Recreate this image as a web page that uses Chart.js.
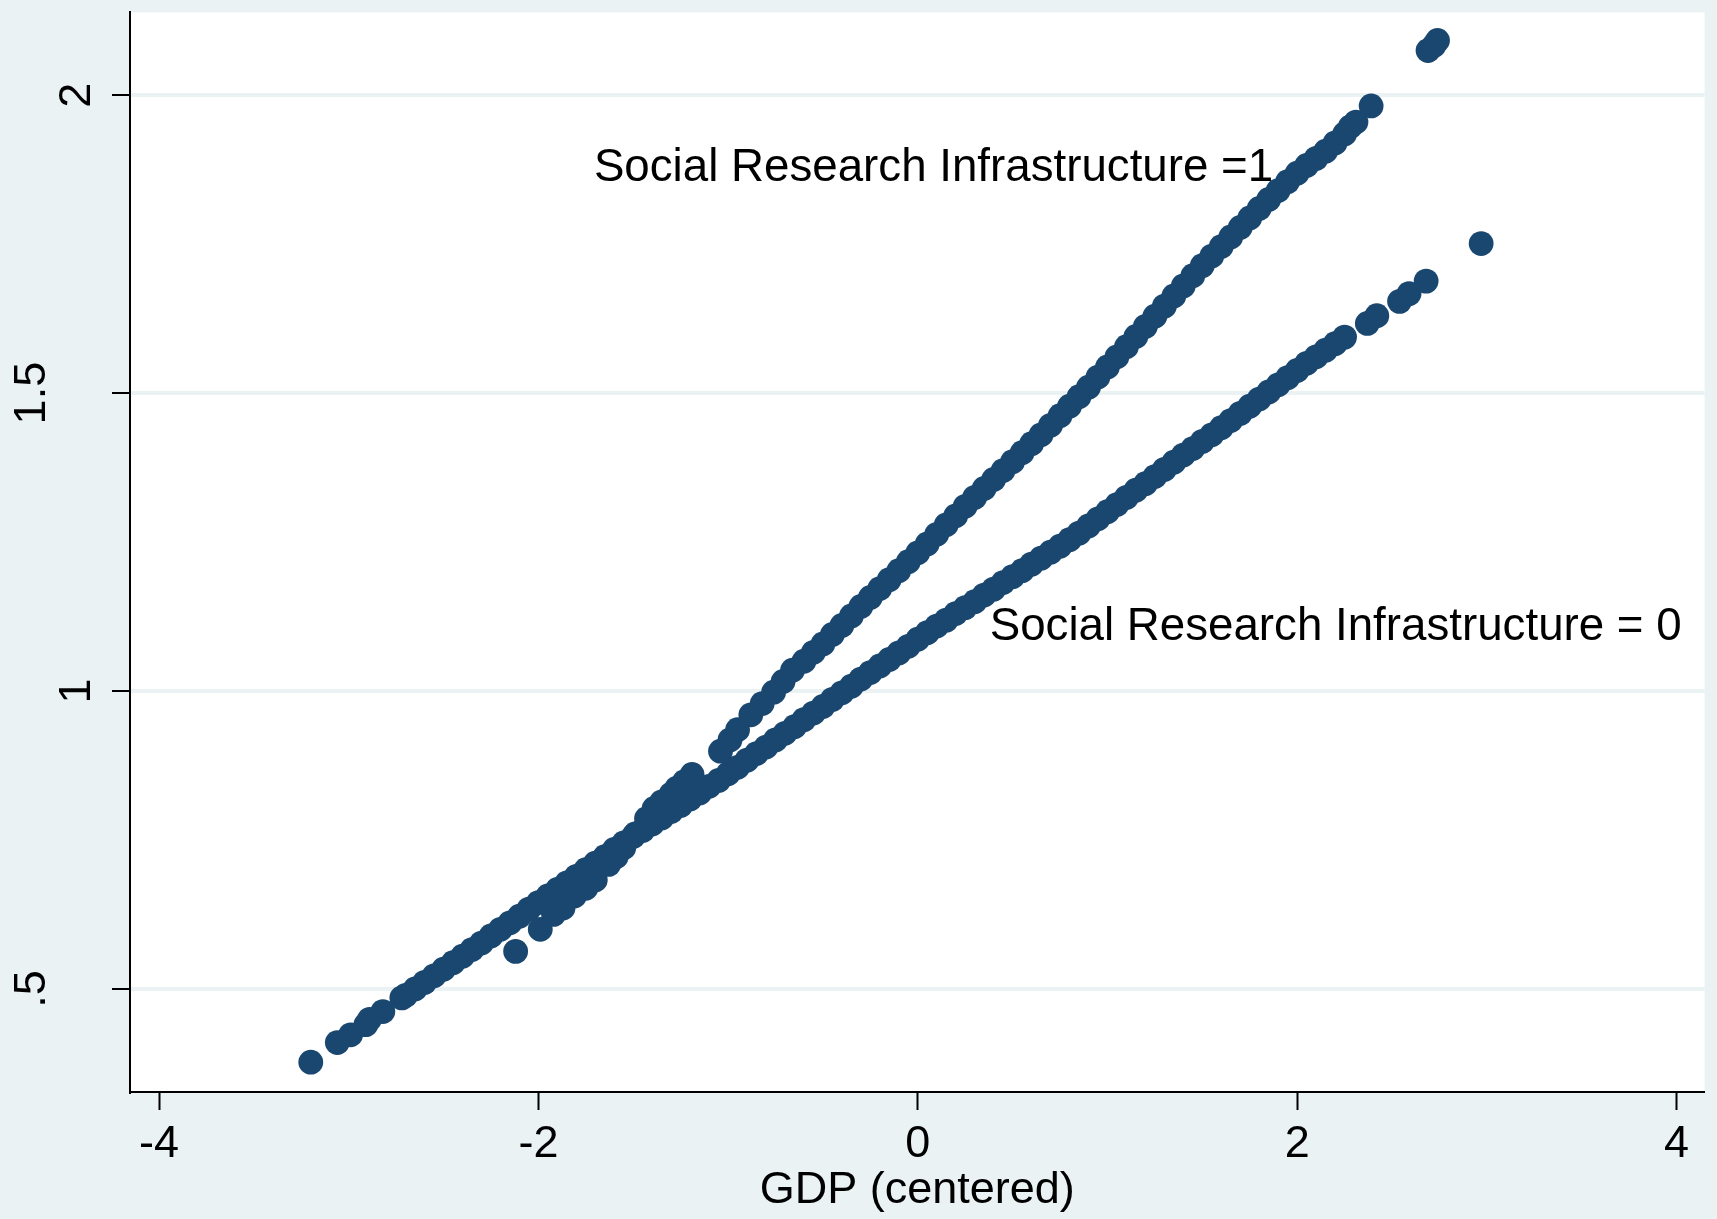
<!DOCTYPE html>
<html>
<head>
<meta charset="utf-8">
<title>GDP (centered)</title>
<script src="https://cdn.jsdelivr.net/npm/chart.js@4.4.1/dist/chart.umd.min.js"></script>
<style>
  html, body { margin: 0; padding: 0; background: #eaf2f3; }
  canvas { display: block; }
</style>
</head>
<body>
<canvas id="scatterChart" width="1717" height="1219"></canvas>
<script>
// tick values
var xTicks = [-4, -2, 0, 2, 4];
var yTicks = [0.5, 1, 1.5, 2];

// Social Research Infrastructure = 0
var sri0X = [-3.20, -3.06, -2.99, -2.91, -2.89, -2.82, -2.72, -2.70, -2.65, -2.60,
             -2.55, -2.50, -2.45, -2.40, -2.35, -2.30, -2.25, -2.20, -2.15, -2.10,
             -2.05, -2.00, -1.95, -1.90, -1.85, -1.80, -1.75, -1.70, -1.65, -1.60,
             -1.55, -1.50, -1.45, -1.40, -1.35, -1.30, -1.25, -1.20, -1.15, -1.10,
             -1.05, -1.00, -0.95, -0.90, -0.85, -0.80, -0.75, -0.70, -0.65, -0.60,
             -0.55, -0.50, -0.45, -0.40, -0.35, -0.30, -0.25, -0.20, -0.15, -0.10,
             -0.05, 0.00, 0.05, 0.10, 0.15, 0.20, 0.25, 0.30, 0.35, 0.40,
             0.45, 0.50, 0.55, 0.60, 0.65, 0.70, 0.75, 0.80, 0.85, 0.90,
             0.95, 1.00, 1.05, 1.10, 1.15, 1.20, 1.25, 1.30, 1.35, 1.40,
             1.45, 1.50, 1.55, 1.60, 1.65, 1.70, 1.75, 1.80, 1.85, 1.90,
             1.95, 2.00, 2.05, 2.10, 2.15, 2.20, 2.25, 2.37, 2.42, 2.54,
             2.59, 2.68, 2.97];
var sri0Y = [0.377, 0.410, 0.423, 0.440, 0.449, 0.462, 0.485, 0.489, 0.500, 0.511,
             0.522, 0.533, 0.544, 0.555, 0.566, 0.577, 0.589, 0.600, 0.611, 0.622,
             0.634, 0.645, 0.656, 0.667, 0.678, 0.689, 0.700, 0.711, 0.722, 0.734,
             0.745, 0.756, 0.766, 0.777, 0.787, 0.798, 0.808, 0.819, 0.829, 0.840,
             0.850, 0.861, 0.872, 0.884, 0.895, 0.906, 0.918, 0.929, 0.940, 0.952,
             0.963, 0.974, 0.986, 0.997, 1.008, 1.020, 1.031, 1.042, 1.053, 1.064,
             1.075, 1.087, 1.098, 1.109, 1.119, 1.130, 1.140, 1.150, 1.161, 1.171,
             1.182, 1.192, 1.202, 1.213, 1.223, 1.233, 1.243, 1.254, 1.265, 1.277,
             1.289, 1.301, 1.313, 1.325, 1.337, 1.348, 1.360, 1.372, 1.384, 1.396,
             1.407, 1.419, 1.430, 1.442, 1.454, 1.466, 1.478, 1.490, 1.502, 1.514,
             1.526, 1.538, 1.550, 1.561, 1.572, 1.583, 1.594, 1.617, 1.630, 1.654,
             1.667, 1.688, 1.751];

// Social Research Infrastructure = 1
var sri1X = [-2.12, -1.99, -1.92, -1.87, -1.81, -1.75, -1.70, -1.63, -1.59, -1.55,
             -1.49, -1.43, -1.39, -1.35, -1.30, -1.27, -1.23, -1.19, -1.04, -0.99,
             -0.95, -0.88, -0.82, -0.76, -0.71, -0.66, -0.60, -0.55, -0.50, -0.45,
             -0.40, -0.35, -0.30, -0.25, -0.20, -0.15, -0.10, -0.05, 0.00, 0.05,
             0.10, 0.15, 0.20, 0.25, 0.30, 0.35, 0.40, 0.45, 0.50, 0.55,
             0.60, 0.65, 0.70, 0.75, 0.80, 0.85, 0.90, 0.95, 1.00, 1.05,
             1.10, 1.15, 1.20, 1.25, 1.30, 1.35, 1.40, 1.45, 1.50, 1.55,
             1.60, 1.65, 1.70, 1.75, 1.80, 1.85, 1.90, 1.95, 2.00, 2.05,
             2.10, 2.15, 2.20, 2.25, 2.28, 2.31, 2.39, 2.69, 2.72, 2.74];
var sri1Y = [0.563, 0.600, 0.625, 0.636, 0.656, 0.669, 0.683, 0.709, 0.722, 0.737,
             0.760, 0.786, 0.803, 0.814, 0.827, 0.837, 0.848, 0.860, 0.899, 0.918,
             0.935, 0.960, 0.979, 0.998, 1.016, 1.035, 1.050, 1.065, 1.079, 1.095,
             1.110, 1.126, 1.142, 1.157, 1.172, 1.187, 1.202, 1.217, 1.232, 1.247,
             1.263, 1.279, 1.294, 1.310, 1.325, 1.340, 1.355, 1.370, 1.385, 1.400,
             1.415, 1.430, 1.446, 1.462, 1.478, 1.494, 1.510, 1.527, 1.544, 1.561,
             1.578, 1.595, 1.612, 1.629, 1.646, 1.663, 1.680, 1.697, 1.714, 1.730,
             1.746, 1.762, 1.778, 1.794, 1.810, 1.825, 1.840, 1.855, 1.869, 1.882,
             1.894, 1.906, 1.920, 1.935, 1.947, 1.955, 1.982, 2.075, 2.083, 2.092];

var seriesNames = ['Social Research Infrastructure = 0', 'Social Research Infrastructure =1'];

var FONT = '"Liberation Sans", Arial, Helvetica, sans-serif';
var NAVY = '#1a476f';
var BG = '#eaf2f3';

function toPoints(xs, ys) {
    return xs.map(function (x, i) { return {x: x, y: ys[i]}; });
}

// Stata style: ".5" instead of "0.5"
function yLabel(v) {
    return v < 1 ? String(v).replace(/^0/, '') : String(v);
}

// outer background + white plot region
const plotBackground = {
    id: 'plotBackground',
    beforeDraw(chart) {
        const {ctx, chartArea} = chart;
        ctx.save();
        ctx.fillStyle = BG;
        ctx.fillRect(0, 0, chart.width, chart.height);
        ctx.fillStyle = '#ffffff';
        ctx.fillRect(chartArea.left, chartArea.top,
            chartArea.right - chartArea.left, chartArea.bottom - chartArea.top);
        ctx.restore();
    }
};

// vertical y tick labels, placed on the y scale
const yTickLabels = {
    id: 'yTickLabels',
    afterDraw(chart) {
        const ctx = chart.ctx;
        const y = chart.scales.y;
        ctx.save();
        ctx.fillStyle = '#000';
        ctx.font = '45px ' + FONT;
        ctx.textAlign = 'center';
        ctx.textBaseline = 'middle';
        yTicks.forEach(function (v) {
            const txt = yLabel(v);
            const cx = y.right - 52 - (txt.length > 1 ? 45 : 0);
            ctx.save();
            ctx.translate(cx, y.getPixelForValue(v));
            ctx.rotate(-Math.PI / 2);
            ctx.fillText(txt, 0, 0);
            ctx.restore();
        });
        ctx.restore();
    }
};

// the two text labels inside the plot
const seriesText = {
    id: 'seriesText',
    afterDatasetsDraw(chart) {
        const ctx = chart.ctx;
        const sx = chart.scales.x, sy = chart.scales.y;
        const spots = [[0.379, 1.0857], [-1.7075, 1.856]];
        ctx.save();
        ctx.fillStyle = '#000';
        ctx.font = '45.7px ' + FONT;
        ctx.textAlign = 'left';
        ctx.textBaseline = 'alphabetic';
        seriesNames.forEach(function (name, i) {
            ctx.fillText(name, sx.getPixelForValue(spots[i][0]), sy.getPixelForValue(spots[i][1]));
        });
        ctx.restore();
    }
};

const ctx = document.getElementById('scatterChart').getContext('2d');

new Chart(ctx, {
    type: 'scatter',
    data: {
        datasets: [{
            label: seriesNames[0],
            data: toPoints(sri0X, sri0Y),
            backgroundColor: NAVY,
            borderWidth: 0,
            pointRadius: 12.4,
            pointHoverRadius: 12.4
        }, {
            label: seriesNames[1],
            data: toPoints(sri1X, sri1Y),
            backgroundColor: NAVY,
            borderWidth: 0,
            pointRadius: 12.4,
            pointHoverRadius: 12.4
        }]
    },
    options: {
        responsive: false,
        animation: false,
        devicePixelRatio: 1,
        events: [],
        layout: {
            padding: {top: 8, right: 12, left: 0, bottom: 0}
        },
        plugins: {
            legend: {display: false},
            tooltip: {enabled: false}
        },
        scales: {
            x: {
                type: 'linear',
                min: -4.153,
                max: 4.148,
                afterBuildTicks: function (s) { s.ticks = xTicks.map(function (v) { return {value: v}; }); },
                afterFit: function (s) { s.height = 127; },
                grid: {
                    drawOnChartArea: false,
                    drawTicks: true,
                    tickLength: 18,
                    tickWidth: 2,
                    tickColor: '#000'
                },
                border: {display: true, color: '#000', width: 2},
                ticks: {
                    autoSkip: false,
                    maxRotation: 0,
                    padding: 8,
                    color: '#000',
                    font: {family: FONT, size: 45}
                },
                title: {
                    display: true,
                    text: 'GDP (centered)',
                    color: '#000',
                    font: {family: FONT, size: 45},
                    padding: {top: 0, bottom: 1}
                }
            },
            y: {
                type: 'linear',
                min: 0.327,
                max: 2.139,
                afterBuildTicks: function (s) { s.ticks = yTicks.map(function (v) { return {value: v}; }); },
                afterFit: function (s) { s.width = 130; },
                grid: {
                    color: BG,
                    lineWidth: 4,
                    drawTicks: true,
                    tickLength: 18,
                    tickWidth: 2,
                    tickColor: '#000'
                },
                border: {display: true, color: '#000', width: 2},
                ticks: {display: false}
            }
        }
    },
    plugins: [plotBackground, yTickLabels, seriesText]
});
</script>
</body>
</html>
